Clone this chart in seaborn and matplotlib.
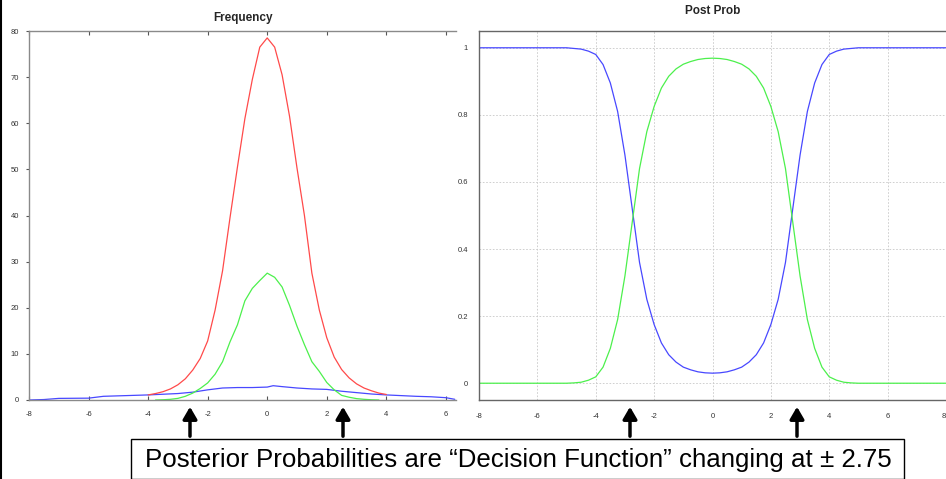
import numpy as np
import pandas as pd
import matplotlib
matplotlib.use("Agg")
import matplotlib.pyplot as plt
import seaborn as sns

# ---------------- data ----------------
red_x = [-4.0, -3.75, -3.5, -3.25, -3.0, -2.75, -2.5, -2.25, -2.0, -1.75, -1.5, -1.25, -1.0, -0.75,
         -0.5, -0.25, 0.0, 0.25, 0.5, 0.75, 1.0, 1.25, 1.5, 1.75, 2.0, 2.25, 2.5, 2.75, 3.0, 3.25,
         3.5, 3.75, 4.0]
red_y = [1.1, 1.4, 1.8, 2.4, 3.3, 4.6, 6.5, 9.0, 12.8, 19.5, 28.0, 39.5, 50.5, 61.0,
         69.5, 76.5, 78.5, 76.5, 70.5, 61.5, 50.3, 40.0, 27.5, 19.5, 13.5, 9.3, 6.6, 4.8, 3.5, 2.6,
         2.0, 1.5, 1.2]

green_x = [-3.75, -3.5, -3.25, -3.0, -2.75, -2.5, -2.25, -2.0, -1.75, -1.5, -1.25, -1.0, -0.75,
           -0.5, -0.25, 0.0, 0.25, 0.5, 0.75, 1.0, 1.25, 1.5, 1.75, 2.0, 2.25, 2.5, 2.75, 3.0,
           3.25, 3.5, 3.75]
green_y = [0.0, 0.05, 0.15, 0.35, 0.8, 1.5, 2.5, 3.7, 5.6, 8.3, 12.6, 16.3, 21.5,
           24.2, 25.9, 27.5, 26.6, 24.5, 20.5, 16.0, 12.0, 8.3, 6.2, 3.8, 2.2, 1.0, 0.6, 0.3,
           0.15, 0.05, 0.0]

blue_x = [-8.0, -7.5, -7.0, -6.0, -5.5, -5.0, -4.0, -3.0, -2.5, -2.0, -1.5, -1.0, -0.5, 0.0,
          0.2, 0.5, 1.0, 1.5, 2.0, 2.5, 3.0, 3.5, 4.0, 5.0, 5.5, 6.0, 6.3]
blue_y = [0.0, 0.1, 0.35, 0.4, 0.8, 0.9, 1.1, 1.4, 1.7, 2.2, 2.6, 2.7, 2.7, 2.8,
          3.1, 2.9, 2.6, 2.4, 2.3, 1.9, 1.6, 1.3, 1.1, 0.8, 0.7, 0.5, 0.15]

post_x = [-8.0, -5.0, -4.75, -4.5, -4.25, -4.0, -3.75, -3.5, -3.25, -3.0, -2.75, -2.5, -2.25,
          -2.0, -1.75, -1.5, -1.25, -1.0, -0.75, -0.5, -0.25, 0.0, 0.25, 0.5, 0.75, 1.0, 1.25,
          1.5, 1.75, 2.0, 2.25, 2.5, 2.75, 3.0, 3.25, 3.5, 3.75, 4.0, 4.25, 4.5, 4.75, 5.0, 8.0]
post_blue = [1.0, 1.0, 0.998, 0.996, 0.99, 0.98, 0.95, 0.895, 0.81, 0.68, 0.52, 0.36, 0.25,
             0.175, 0.12, 0.085, 0.063, 0.048, 0.040, 0.034, 0.031, 0.030, 0.031, 0.034, 0.040,
             0.048, 0.063, 0.085, 0.12, 0.175, 0.25, 0.36, 0.52, 0.68, 0.81, 0.895, 0.95, 0.98,
             0.99, 0.996, 0.998, 1.0, 1.0]
post_green = [0.0, 0.0, 0.001, 0.003, 0.009, 0.019, 0.048, 0.104, 0.19, 0.32, 0.48, 0.64, 0.75,
              0.825, 0.88, 0.915, 0.937, 0.951, 0.959, 0.965, 0.968, 0.969, 0.968, 0.965, 0.959,
              0.951, 0.937, 0.915, 0.88, 0.825, 0.75, 0.64, 0.48, 0.32, 0.19, 0.104, 0.048, 0.019,
              0.009, 0.003, 0.001, 0.0, 0.0]

freq_xticks = [-8, -6, -4, -2, 0, 2, 4, 6]
freq_yticks = [0, 10, 20, 30, 40, 50, 60, 70, 80]
post_xticks = [-8, -6, -4, -2, 0, 2, 4, 6, 8]
post_yticks = [0, 0.2, 0.4, 0.6, 0.8, 1]
post_yticklabels = ["0", "0.2", "0.4", "0.6", "0.8", "1"]

title_left = "Frequency"
title_right = "Post Prob"
note = "Posterior Probabilities are \u201cDecision Function\u201d changing at \u00b1 2.75"

# ---------------- style ----------------
sns.set_theme(style="white")
plt.rcParams["font.family"] = ["Liberation Sans", "DejaVu Sans"]
plt.rcParams["axes.unicode_minus"] = False

RED = "#ff4a4a"
GREEN = "#4cf04c"
BLUE = "#4848ff"
SPINE = "#8a8a8a"

W, H = 946, 479
fig = plt.figure(figsize=(W / 100, H / 100), dpi=100)
fig.patch.set_facecolor("white")

def fx(px):
    return px / W

def fy(py):
    return 1 - py / H

ax1 = fig.add_axes([fx(29), fy(400), fx(456) - fx(29), fy(31) - fy(400)])
ax2 = fig.add_axes([fx(479), fy(400), 1 - fx(479), fy(31) - fy(400)])

lw = 0.9
df_r = pd.DataFrame({"x": red_x, "y": red_y})
df_g = pd.DataFrame({"x": green_x, "y": green_y})
df_b = pd.DataFrame({"x": blue_x, "y": blue_y})
sns.lineplot(data=df_b, x="x", y="y", ax=ax1, color=BLUE, lw=lw, sort=False, estimator=None)
sns.lineplot(data=df_r, x="x", y="y", ax=ax1, color=RED, lw=lw, sort=False, estimator=None)
sns.lineplot(data=df_g, x="x", y="y", ax=ax1, color=GREEN, lw=lw, sort=False, estimator=None)

df_pb = pd.DataFrame({"x": post_x, "y": post_blue})
df_pg = pd.DataFrame({"x": post_x, "y": post_green})
sns.lineplot(data=df_pb, x="x", y="y", ax=ax2, color=BLUE, lw=lw, sort=False, estimator=None)
sns.lineplot(data=df_pg, x="x", y="y", ax=ax2, color=GREEN, lw=lw, sort=False, estimator=None)

# axes 1
ax1.set_xlim(-8, 6.34)
ax1.set_ylim(0, 80)
ax1.set_xticks(freq_xticks)
ax1.set_yticks(freq_yticks)
ax1.set_xlabel("")
ax1.set_ylabel("")
ax1.set_title(title_left, fontsize=8.5, fontweight="bold", pad=7)
for s in ["left", "top", "bottom"]:
    ax1.spines[s].set_color(SPINE)
    ax1.spines[s].set_linewidth(1.0)
ax1.spines["right"].set_visible(False)
ax1.tick_params(axis="x", which="both", direction="in", length=3, width=0.8, color="#555555",
                top=True, bottom=True, labelsize=5.5, labelcolor="#333333", pad=8)
ax1.tick_params(axis="y", direction="out", length=2, width=0.8, color="#555555",
                left=True, labelsize=5.5, labelcolor="#333333", pad=5)

# axes 2
ax2.set_xlim(-8, 8)
ax2.set_ylim(-0.05, 1.05)
ax2.set_xticks(post_xticks)
ax2.set_yticks(post_yticks)
ax2.set_yticklabels(post_yticklabels)
ax2.set_xlabel("")
ax2.set_ylabel("")
ax2.set_title(title_right, fontsize=8.5, fontweight="bold", pad=12)
ax2.grid(True, color="#c8c8c8", linestyle=(0, (2, 2)), linewidth=0.6)
for s in ["left", "top", "bottom"]:
    ax2.spines[s].set_color("#666666")
    ax2.spines[s].set_linewidth(1.0)
ax2.spines["right"].set_visible(False)
ax2.tick_params(axis="x", direction="in", length=0, labelsize=5.5, labelcolor="#333333", pad=9)
ax2.tick_params(axis="y", direction="in", length=0, labelsize=5.5, labelcolor="#333333", pad=8)
for lab in ax2.get_xticklabels():
    if lab.get_text() == "8":
        lab.set_horizontalalignment("right")

# left border line
fig.add_artist(plt.Line2D([fx(1), fx(1)], [0, 1], color="black", lw=1.5, transform=fig.transFigure))

# annotation box
fig.patches.append(matplotlib.patches.Rectangle((fx(131), fy(479)), fx(904) - fx(131), fy(439) - fy(479),
                                                transform=fig.transFigure, facecolor="white",
                                                edgecolor="black", lw=1.0))
fig.text(fx(518), fy(460), note, ha="center", va="center", fontsize=18.6, color="black")

# arrows
for px in [190, 343, 630, 797]:
    fig.add_artist(matplotlib.patches.FancyArrowPatch((fx(px), fy(439)), (fx(px), fy(404)),
                                                      transform=fig.transFigure,
                                                      arrowstyle="-|>,head_length=0.6,head_width=0.35",
                                                      mutation_scale=12, color="black", lw=2.5))

fig.savefig("out.png", dpi=100, facecolor="white")
